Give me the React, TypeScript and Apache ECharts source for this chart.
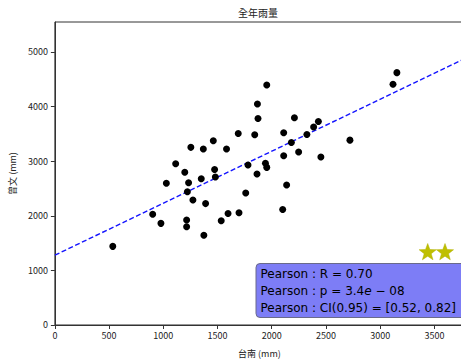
import React, { useEffect, useRef } from "react";
import * as echarts from "echarts";

// Annual rainfall (mm): Tainan (x) vs Zengwen (y)
const TAINAN = [
  534, 902, 978, 1028, 1114, 1198, 1215, 1215, 1222, 1233, 1254, 1273, 1350,
  1369, 1374, 1390, 1461, 1473, 1480, 1534, 1583, 1597, 1691, 1698, 1760,
  1781, 1843, 1864, 1868, 1873, 1942, 1954, 1954, 2101, 2110, 2110, 2137,
  2181, 2209, 2248, 2324, 2386, 2430, 2453, 2721, 3118, 3154,
];
const ZENGWEN = [
  1440, 2029, 1861, 2597, 2954, 2797, 1921, 1798, 2439, 2606, 3253, 2289,
  2678, 3222, 1644, 2223, 3375, 2846, 2711, 1910, 3222, 2042, 3506, 2055,
  2416, 2931, 3482, 2765, 4048, 3780, 2960, 2886, 4396, 2114, 3520, 3099,
  2562, 3343, 3795, 3168, 3488, 3627, 3726, 3076, 3385, 4409, 4621,
];

const X_TICKS = [0, 500, 1000, 1500, 2000, 2500, 3000, 3500];
const Y_TICKS = [0, 1000, 2000, 3000, 4000, 5000];
const X_MAX = 3773;
const Y_MAX = 5548;

// Least-squares fit line
const FIT_INTERCEPT = 1278;
const FIT_SLOPE = 0.952;

const STATS = ["Pearson : R = 0.70", "Pearson : p = 3.4{i|e} − 08", "Pearson : CI(0.95) = [0.52, 0.82]"];

const CJK = "'Noto Sans CJK TC', 'Noto Sans CJK SC', sans-serif";

function starPoints(cx: number, cy: number, outer: number, inner: number) {
  const pts: number[][] = [];
  for (let i = 0; i < 10; i++) {
    const r = i % 2 === 0 ? outer : inner;
    const a = -Math.PI / 2 + (i * Math.PI) / 5;
    pts.push([cx + r * Math.cos(a), cy + r * Math.sin(a)]);
  }
  return pts;
}

export default function App() {
  const ref = useRef<HTMLDivElement>(null);

  useEffect(() => {
    if (!ref.current) return;
    const chart = echarts.init(ref.current, undefined, { renderer: "svg" });
    const points = TAINAN.map((x, i) => [x, ZENGWEN[i]]);
    const fit = [
      [0, FIT_INTERCEPT],
      [X_MAX, FIT_INTERCEPT + FIT_SLOPE * X_MAX],
    ];

    const axisCommon = {
      type: "value" as const,
      axisLine: { show: true, lineStyle: { color: "#333", width: 1 } },
      axisTick: { show: true, length: 4, lineStyle: { color: "#333" } },
      splitLine: { show: false },
      nameLocation: "middle" as const,
      nameTextStyle: { fontFamily: CJK, fontSize: 9, color: "#222" },
    };
    const labelCommon = {
      fontFamily: CJK,
      fontSize: 9,
      color: "#222",
      formatter: (v: number) => String(v),
    };

    chart.setOption({
      animation: false,
      backgroundColor: "#fff",
      grid: {
        left: 54,
        top: 22,
        width: 410,
        height: 307,
        show: true,
        borderColor: "#333",
        borderWidth: 1,
        backgroundColor: "transparent",
      },
      xAxis: {
        ...axisCommon,
        min: 0,
        max: X_MAX,
        name: "台南 (mm)",
        nameGap: 24,
        axisTick: { ...axisCommon.axisTick, customValues: X_TICKS },
        axisLabel: { ...labelCommon, customValues: X_TICKS, margin: 6 },
      },
      yAxis: {
        ...axisCommon,
        min: 0,
        max: Y_MAX,
        name: "曾文 (mm)",
        nameGap: 34,
        axisTick: { ...axisCommon.axisTick, customValues: Y_TICKS },
        axisLabel: { ...labelCommon, customValues: Y_TICKS, margin: 7 },
      },
      series: [
        {
          type: "line",
          data: fit,
          showSymbol: false,
          silent: true,
          lineStyle: { color: "#1414ff", width: 1.4, type: [5, 2.5] },
          z: 2,
        },
        {
          type: "scatter",
          data: points,
          symbolSize: 7,
          itemStyle: { color: "#000", opacity: 1 },
          z: 3,
        },
      ],
      graphic: [
        {
          type: "text",
          left: 259 - 21,
          top: 7,
          style: {
            text: "全年雨量",
            font: `10px ${CJK}`,
            fill: "#222",
          },
        },
        {
          type: "rect",
          shape: { x: 256, y: 263.5, width: 230, height: 54, r: 4 },
          style: { fill: "#7d7df6", stroke: "#6a6a8a", lineWidth: 1 },
          z: 10,
        },
        ...STATS.map((t, i) => ({
          type: "text",
          x: 260.5,
          y: 273.5 + i * 17,
          z: 11,
          style: {
            text: t,
            fill: "#000",
            font: "12px 'DejaVu Sans'",
            verticalAlign: "middle",
            rich: {
              i: { fontFamily: "DejaVu Sans", fontSize: 12, fontStyle: "italic", fill: "#000" },
            },
          },
        })),
        ...[427.7, 445].map((cx) => ({
          type: "polygon",
          z: 12,
          shape: { points: starPoints(cx, 252.5, 9, 3.7) },
          style: { fill: "#bfbf00", stroke: "#b0b000", lineWidth: 0.5 },
        })),
      ],
    });

    return () => chart.dispose();
  }, []);

  return (
    <div
      style={{
        position: "fixed",
        left: 0,
        top: 0,
        width: 461,
        height: 363,
        overflow: "hidden",
        background: "#fff",
      }}
    >
      <div ref={ref} style={{ width: 480, height: 363 }} />
    </div>
  );
}
